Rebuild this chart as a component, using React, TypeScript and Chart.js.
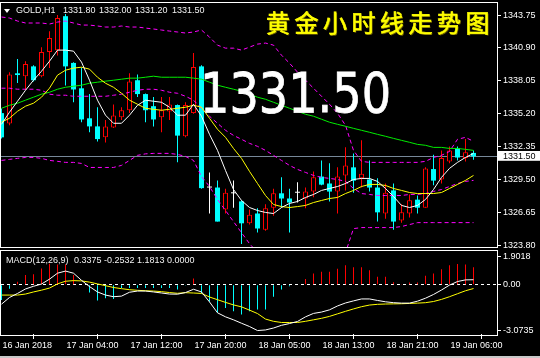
import React, { useEffect, useRef } from "react";
import { Chart, registerables } from "chart.js";

Chart.register(...registerables);

// ---------- data ----------
const barTimes = [
  "16 Jan 19:00", "16 Jan 20:00", "16 Jan 21:00", "16 Jan 22:00", "16 Jan 23:00",
  "17 Jan 01:00", "17 Jan 02:00", "17 Jan 03:00", "17 Jan 04:00", "17 Jan 05:00",
  "17 Jan 06:00", "17 Jan 07:00", "17 Jan 08:00", "17 Jan 09:00", "17 Jan 10:00",
  "17 Jan 11:00", "17 Jan 12:00", "17 Jan 13:00", "17 Jan 14:00", "17 Jan 15:00",
  "17 Jan 16:00", "17 Jan 17:00", "17 Jan 18:00", "17 Jan 19:00", "17 Jan 20:00",
  "17 Jan 21:00", "17 Jan 22:00", "17 Jan 23:00", "18 Jan 01:00", "18 Jan 02:00",
  "18 Jan 03:00", "18 Jan 04:00", "18 Jan 05:00", "18 Jan 06:00", "18 Jan 07:00",
  "18 Jan 08:00", "18 Jan 09:00", "18 Jan 10:00", "18 Jan 11:00", "18 Jan 12:00",
  "18 Jan 13:00", "18 Jan 14:00", "18 Jan 15:00", "18 Jan 16:00", "18 Jan 17:00",
  "18 Jan 18:00", "18 Jan 19:00", "18 Jan 20:00", "18 Jan 21:00", "18 Jan 22:00",
  "18 Jan 23:00", "19 Jan 01:00", "19 Jan 02:00", "19 Jan 03:00", "19 Jan 04:00",
  "19 Jan 05:00", "19 Jan 06:00", "19 Jan 07:00", "19 Jan 08:00", "19 Jan 09:00",
];

const openPrices = [
  1335.25, 1334.35, 1338.70, 1338.45, 1339.30, 1338.45, 1340.55, 1340.70, 1343.65, 1339.60,
  1337.40, 1334.80, 1334.10, 1333.15, 1334.00, 1334.90, 1335.50, 1338.10, 1336.90, 1335.85,
  1334.90, 1335.40, 1335.95, 1333.25, 1335.25, 1339.30, 1328.80, 1328.80, 1326.90, 1328.30,
  1327.60, 1325.70, 1326.55, 1325.15, 1327.05, 1328.30, 1327.85, 1328.35, 1327.85, 1328.45,
  1329.75, 1329.15, 1328.45, 1329.85, 1330.55, 1329.60, 1329.50, 1328.80, 1326.55, 1328.55,
  1325.95, 1326.55, 1327.75, 1327.05, 1330.40, 1329.50, 1331.05, 1332.20, 1331.35, 1331.80,
];
const highPrices = [
  1335.65, 1338.80, 1339.95, 1339.75, 1339.40, 1340.95, 1342.35, 1343.75, 1343.85, 1339.65,
  1339.20, 1336.90, 1335.75, 1334.65, 1336.00, 1335.75, 1338.70, 1338.60, 1336.95, 1336.65,
  1336.65, 1336.65, 1336.00, 1336.20, 1340.45, 1339.40, 1330.10, 1329.40, 1328.70, 1329.40,
  1327.70, 1326.90, 1327.00, 1327.35, 1328.70, 1329.70, 1328.70, 1329.25, 1328.80, 1330.20,
  1331.15, 1330.90, 1330.55, 1332.30, 1331.75, 1332.90, 1331.15, 1329.60, 1329.15, 1329.15,
  1327.35, 1328.20, 1328.10, 1330.55, 1331.65, 1332.00, 1332.35, 1332.35, 1333.00, 1332.00,
];
const lowPrices = [
  1333.05, 1334.20, 1337.85, 1337.25, 1338.00, 1338.35, 1339.15, 1340.25, 1337.65, 1336.20,
  1334.45, 1333.60, 1332.80, 1332.70, 1333.95, 1334.65, 1335.25, 1336.65, 1334.45, 1334.10,
  1333.60, 1334.65, 1331.00, 1333.15, 1335.20, 1328.70, 1326.55, 1325.85, 1326.55, 1327.05,
  1323.90, 1325.60, 1324.90, 1325.05, 1326.35, 1327.05, 1324.90, 1327.50, 1327.00, 1327.95,
  1329.00, 1327.60, 1326.55, 1328.55, 1328.35, 1328.80, 1328.45, 1325.85, 1326.10, 1325.15,
  1325.75, 1326.20, 1326.55, 1327.05, 1329.00, 1329.15, 1330.90, 1331.15, 1331.05, 1331.20,
];
const closePrices = [
  1333.15, 1338.60, 1338.55, 1339.50, 1338.10, 1340.55, 1341.75, 1343.50, 1339.30, 1337.30,
  1334.70, 1334.10, 1333.00, 1334.10, 1335.05, 1335.50, 1338.00, 1336.90, 1335.50, 1334.70,
  1335.50, 1336.00, 1333.30, 1335.95, 1339.25, 1328.75, 1328.80, 1325.85, 1328.35, 1328.30,
  1325.70, 1326.45, 1325.25, 1327.00, 1328.30, 1327.85, 1327.50, 1328.35, 1328.45, 1329.70,
  1329.05, 1328.45, 1329.75, 1330.70, 1329.40, 1330.00, 1328.80, 1326.65, 1328.35, 1325.85,
  1326.65, 1327.70, 1327.05, 1330.45, 1329.40, 1331.35, 1332.00, 1331.40, 1331.85, 1331.50,
];

const maFast = [
  1334.28, 1335.33, 1336.28, 1337.23, 1338.10, 1338.88, 1339.75, 1340.71, 1340.71, 1340.62,
  1339.67, 1338.10, 1336.37, 1335.07, 1334.37, 1334.37, 1335.07, 1335.93, 1336.37, 1336.28,
  1336.19, 1335.76, 1335.07, 1335.07, 1336.02, 1334.98, 1333.41, 1332.02, 1330.28, 1328.63,
  1327.68, 1327.07, 1326.81, 1326.64, 1326.55, 1327.07, 1327.42, 1327.59, 1327.94, 1328.20,
  1328.55, 1328.72, 1328.89, 1329.15, 1329.50, 1329.59, 1329.59, 1329.33, 1328.72, 1328.02,
  1327.25, 1327.07, 1327.25, 1327.77, 1328.63, 1329.68, 1330.46, 1330.98, 1331.41, 1331.76,
];
const maMid = [
  1334.46, 1334.81, 1335.41, 1335.85, 1336.11, 1336.63, 1337.41, 1338.54, 1338.97, 1339.15,
  1339.23, 1339.06, 1338.36, 1337.84, 1337.49, 1336.97, 1336.37, 1336.02, 1335.67, 1335.58,
  1335.50, 1335.58, 1335.67, 1335.76, 1335.93, 1335.76, 1334.80, 1333.85, 1333.15, 1332.19,
  1331.33, 1330.20, 1329.15, 1328.11, 1327.33, 1327.15, 1327.07, 1327.15, 1327.25, 1327.50,
  1327.68, 1327.85, 1327.94, 1328.28, 1328.55, 1328.89, 1329.07, 1329.07, 1328.98, 1328.72,
  1328.55, 1328.37, 1328.28, 1328.28, 1328.28, 1328.37, 1328.72, 1329.07, 1329.42, 1329.85,
];
const maSlow = [
  1335.67, 1335.93, 1336.11, 1336.37, 1336.63, 1336.89, 1337.06, 1337.32, 1337.49, 1337.58,
  1337.67, 1337.84, 1337.93, 1338.02, 1338.10, 1338.19, 1338.28, 1338.28, 1338.36, 1338.45,
  1338.36, 1338.36, 1338.36, 1338.36, 1338.28, 1338.19, 1337.93, 1337.67, 1337.49, 1337.32,
  1337.15, 1336.89, 1336.63, 1336.45, 1336.19, 1335.93, 1335.67, 1335.41, 1335.15, 1334.98,
  1334.72, 1334.46, 1334.28, 1334.11, 1333.93, 1333.76, 1333.59, 1333.41, 1333.24, 1333.06,
  1332.89, 1332.72, 1332.54, 1332.46, 1332.28, 1332.28, 1332.19, 1332.19, 1332.11, 1332.02,
];
const bandUpper = [
  1343.58, 1343.49, 1343.23, 1343.06, 1343.06, 1343.06, 1342.97, 1343.14, 1343.23, 1343.06,
  1342.88, 1342.88, 1342.80, 1342.71, 1342.71, 1342.80, 1342.71, 1342.71, 1342.62, 1342.54,
  1342.45, 1342.36, 1342.28, 1342.19, 1342.28, 1342.45, 1341.84, 1341.14, 1340.88, 1340.88,
  1340.71, 1340.97, 1341.23, 1341.32, 1341.14, 1340.27, 1339.58, 1338.80, 1338.10, 1337.41,
  1336.71, 1336.02, 1335.24, 1334.19, 1332.02, 1331.07, 1330.98, 1330.98, 1330.98, 1330.98,
  1330.98, 1330.98, 1330.98, 1331.07, 1331.41, 1331.59, 1331.93, 1332.98, 1333.15, 1332.80,
];
const bandMiddle = [
  1337.41, 1337.41, 1337.32, 1337.32, 1337.32, 1337.23, 1336.89, 1336.80, 1336.80, 1336.71,
  1336.71, 1336.71, 1336.71, 1336.71, 1336.80, 1336.89, 1337.06, 1337.23, 1337.32, 1337.32,
  1337.23, 1337.06, 1336.97, 1336.71, 1336.37, 1335.67, 1334.98, 1334.37, 1333.76, 1333.32,
  1332.98, 1332.63, 1332.37, 1332.02, 1331.59, 1331.15, 1330.72, 1330.37, 1330.11, 1329.85,
  1329.68, 1329.59, 1329.50, 1329.33, 1328.72, 1328.28, 1328.20, 1328.11, 1328.11, 1328.11,
  1328.11, 1328.20, 1328.20, 1328.28, 1328.46, 1328.63, 1328.89, 1329.15, 1329.33, 1329.42,
];
const bandLower = [
  1331.15, 1331.24, 1331.33, 1331.41, 1331.41, 1331.33, 1331.15, 1331.07, 1330.98, 1330.98,
  1330.89, 1330.54, 1330.54, 1330.54, 1330.54, 1330.72, 1331.15, 1331.59, 1331.72, 1331.76,
  1331.76, 1331.76, 1331.67, 1331.50, 1331.15, 1329.76, 1328.89, 1327.77, 1326.81, 1325.85,
  1324.89, 1323.94, 1323.16, 1322.64, 1322.29, 1322.03, 1321.77, 1321.60, 1321.60, 1321.77,
  1322.03, 1322.29, 1322.46, 1323.16, 1325.24, 1325.33, 1325.33, 1325.33, 1325.33, 1325.33,
  1325.42, 1325.59, 1325.76, 1325.76, 1325.76, 1325.76, 1325.76, 1325.76, 1325.76, 1325.76,
];

const macdMain = [
  -1.30, -0.85, -0.58, -0.28, -0.10, 0.05, 0.38, 0.78, 0.92, 0.78,
  0.30, -0.12, -0.48, -0.69, -0.80, -0.76, -0.50, -0.42, -0.42, -0.48,
  -0.55, -0.62, -0.63, -0.52, -0.30, -0.48, -1.15, -1.88, -2.15, -2.35,
  -2.58, -2.80, -3.07, -3.03, -2.90, -2.72, -2.60, -2.46, -2.15, -1.92,
  -1.83, -1.68, -1.42, -1.22, -1.08, -0.95, -0.95, -1.05, -1.14, -1.20,
  -1.23, -1.23, -1.10, -0.90, -0.65, -0.35, -0.02, 0.22, 0.33, 0.34,
];
const macdSignal = [
  -0.69, -0.69, -0.69, -0.62, -0.48, -0.36, -0.22, 0.06, 0.24, 0.28,
  0.26, 0.18, 0.06, -0.06, -0.18, -0.26, -0.33, -0.37, -0.40, -0.42,
  -0.46, -0.52, -0.57, -0.53, -0.55, -0.58, -0.82, -1.00, -1.18, -1.35,
  -1.48, -1.70, -1.93, -2.30, -2.45, -2.53, -2.53, -2.53, -2.45, -2.35,
  -2.25, -2.12, -1.95, -1.78, -1.62, -1.47, -1.36, -1.31, -1.29, -1.28,
  -1.27, -1.25, -1.23, -1.20, -1.12, -0.98, -0.80, -0.60, -0.40, -0.25,
];
const macdHist = [
  -1.02, -0.26, 0.21, 0.65, 0.71, 1.10, 1.42, 1.36, 1.36, 0.65,
  0, -0.52, -1.06, -0.91, -0.95, -0.22, -0.22, -0.22, -0.22, -0.22,
  -0.22, -0.22, -0.32, -0.04, 0.43, -0.58, -1.12, -1.88, -1.55, -1.77,
  -1.99, -1.77, -1.66, -1.66, -0.80, -0.32, -0.09, 0, 0.39, 0.75,
  0.88, 0.88, 1.07, 1.31, 1.18, 1.18, 0.97, 0.54, 0.54, 0.17,
  0.05, 0.15, 0.15, 0.60, 0.75, 1.04, 1.31, 1.40, 1.36, 1.18,
];

const priceTicks = [1323.80, 1326.65, 1329.50, 1331.50, 1332.35, 1335.20, 1338.05, 1340.90, 1343.75];
const bidPrice = 1331.50;
const macdTicks = [-3.0735, 0, 1.9018];
const timeTickBars = [0, 8, 16, 24, 32, 40, 48, 56];
const timeTickLabels = [
  "16 Jan 2018", "17 Jan 04:00", "17 Jan 12:00", "17 Jan 20:00",
  "18 Jan 05:00", "18 Jan 13:00", "18 Jan 21:00", "19 Jan 06:00",
];
const symbolTitle = "GOLD,H1";
const macdTitle = "MACD(12,26,9)";
const macdLegendValues = ["0.3375", "-0.2532", "1.1813", "0.0000"];
const chartCaption = "黄金小时线走势图";

// ---------- style ----------
const BULL = "#ff0000";
const BEAR = "#00ffff";
const DOJI = "#ffffff";
const FONT = "'Liberation Sans', Arial, sans-serif";
const X_MIN = -0.0625;
const X_MAX = 61.9375;

const xy = (arr: number[]) => arr.map((v, i) => ({ x: i, y: v }));

const lineDs = (label: string, values: number[], color: string, order: number, dash: number[] = []) => ({
  type: "line",
  label,
  data: xy(values),
  borderColor: color,
  borderWidth: 1,
  borderDash: dash,
  pointRadius: 0,
  tension: 0,
  fill: false,
  order,
});

export default function App() {
  const mainRef = useRef<HTMLCanvasElement>(null);
  const macdRef = useRef<HTMLCanvasElement>(null);

  useEffect(() => {
    document.body.style.margin = "0";
    document.body.style.background = "#000";
    Chart.defaults.font.family = FONT;
    Chart.defaults.font.size = 9;

    const kinds = closePrices.map((c, i) => (c > openPrices[i] ? 1 : c < openPrices[i] ? -1 : 0));
    const candleColor = kinds.map((k) => (k > 0 ? BULL : k < 0 ? BEAR : DOJI));

    const main = new Chart(mainRef.current as HTMLCanvasElement, {
      type: "bar",
      data: {
        labels: barTimes,
        datasets: [
          lineDs("MA fast", maFast, "#ffffff", 1),
          lineDs("MA mid", maMid, "#ffff00", 2),
          lineDs("MA slow", maSlow, "#00ee00", 3),
          lineDs("BB upper", bandUpper, "#ff00ff", 4, [4, 3]),
          lineDs("BB middle", bandMiddle, "#ff00ff", 4, [4, 3]),
          lineDs("BB lower", bandLower, "#ff00ff", 4, [4, 3]),
          {
            type: "bar",
            label: "bodies",
            data: openPrices.map((o, i) => ({ x: i, y: [o, closePrices[i]] })),
            backgroundColor: kinds.map((k) => (k > 0 ? "#000000" : k < 0 ? BEAR : DOJI)),
            borderColor: kinds.map((k) => (k > 0 ? BULL : "rgba(0,0,0,0)")),
            borderWidth: kinds.map((k) => (k > 0 ? 1 : 0)),
            borderSkipped: false,
            barThickness: 5,
            maxBarThickness: 5,
            grouped: false,
            minBarLength: 1,
            inflateAmount: 0,
            order: 8,
          },
          {
            type: "bar",
            label: "wicks",
            data: lowPrices.map((l, i) => ({ x: i, y: [l, highPrices[i]] })),
            backgroundColor: candleColor,
            borderWidth: 0,
            barThickness: 1,
            maxBarThickness: 1,
            grouped: false,
            inflateAmount: 0,
            order: 9,
          },
        ] as any,
      },
      options: {
        animation: false,
        responsive: false,
        devicePixelRatio: 1,
        events: [],
        layout: { padding: { left: 1, top: 2, right: 0, bottom: 2 }, autoPadding: false },
        plugins: { legend: { display: false }, tooltip: { enabled: false } },
        scales: {
          x: { type: "linear", min: X_MIN, max: X_MAX, offset: false, display: false },
          y: {
            type: "linear",
            position: "right",
            min: 1323.56,
            max: 1344.88,
            beginAtZero: false,
            afterFit: (s: any) => {
              s.width = 43;
              s.paddingTop = 0;
              s.paddingBottom = 0;
            },
            afterBuildTicks: (s: any) => {
              s.ticks = priceTicks.map((v) => ({ value: v }));
            },
            grid: {
              drawOnChartArea: true,
              color: (c: any) => (c.tick && c.tick.value === bidPrice ? "#778899" : "rgba(0,0,0,0)"),
              lineWidth: 1,
              drawTicks: true,
              tickLength: 4,
              tickColor: "#ffffff",
              tickWidth: 1,
            },
            border: { display: false },
            ticks: {
              autoSkip: false,
              padding: 2,
              font: { family: FONT, size: 9 },
              color: (c: any) => (c.tick && c.tick.value === bidPrice ? "#000000" : "#ffffff"),
              callback: (v: any) => Number(v).toFixed(2),
              showLabelBackdrop: (c: any) => !!(c.tick && c.tick.value === bidPrice),
              backdropColor: "#ffffff",
              backdropPadding: { top: 0, bottom: -1, left: 5, right: 8 },
            },
          },
        },
      } as any,
    });

    const macd = new Chart(macdRef.current as HTMLCanvasElement, {
      type: "bar",
      data: {
        datasets: [
          lineDs("MACD", macdMain, "#ffffff", 1),
          lineDs("Signal", macdSignal, "#ffff00", 2),
          {
            type: "bar",
            label: "Histogram",
            data: xy(macdHist),
            backgroundColor: macdHist.map((h) => (h >= 0 ? BULL : BEAR)),
            borderWidth: 0,
            barThickness: 1,
            maxBarThickness: 1,
            grouped: false,
            inflateAmount: 0,
            order: 3,
          },
        ] as any,
      },
      options: {
        animation: false,
        responsive: false,
        devicePixelRatio: 1,
        events: [],
        layout: { padding: { left: 1, top: 1, right: 0, bottom: 0 }, autoPadding: false },
        plugins: { legend: { display: false }, tooltip: { enabled: false } },
        scales: {
          x: {
            type: "linear",
            min: X_MIN,
            max: X_MAX,
            offset: false,
            position: "bottom",
            afterFit: (s: any) => {
              s.height = 24;
              s.paddingLeft = 0;
              s.paddingRight = 0;
            },
            afterBuildTicks: (s: any) => {
              s.ticks = timeTickBars.map((v) => ({ value: v }));
            },
            grid: {
              drawOnChartArea: false,
              drawTicks: true,
              tickLength: 5,
              tickColor: "#ffffff",
              color: "#ffffff",
            },
            border: { display: false },
            ticks: {
              autoSkip: false,
              maxRotation: 0,
              minRotation: 0,
              align: "start",
              padding: 1,
              labelOffset: 1,
              color: "#ffffff",
              font: { family: FONT, size: 9 },
              callback: (_v: any, i: number) => timeTickLabels[i] ?? "",
            },
          },
          y: {
            type: "linear",
            position: "right",
            min: -3.302,
            max: 2.268,
            beginAtZero: false,
            afterFit: (s: any) => {
              s.width = 43;
              s.paddingTop = 0;
              s.paddingBottom = 0;
            },
            afterBuildTicks: (s: any) => {
              s.ticks = macdTicks.map((v) => ({ value: v }));
            },
            grid: {
              drawOnChartArea: true,
              color: (c: any) => (c.tick && c.tick.value === 0 ? "#ffffff" : "rgba(0,0,0,0)"),
              drawTicks: true,
              tickLength: 4,
              tickColor: "#ffffff",
            },
            border: { display: false, dash: [3, 3] },
            ticks: {
              autoSkip: false,
              padding: 2,
              color: "#ffffff",
              font: { family: FONT, size: 9 },
              callback: (v: any) => (Number(v) === 0 ? "0.00" : Number(v).toFixed(4)),
            },
          },
        },
      } as any,
    });

    return () => {
      main.destroy();
      macd.destroy();
    };
  }, []);

  const last = closePrices.length - 1;
  const ohlc = [openPrices[last], highPrices[last], lowPrices[last], closePrices[last]].map((v) => v.toFixed(2));
  const ohlcLeft = [63, 99, 135, 172];

  const small: React.CSSProperties = {
    position: "absolute",
    fontFamily: FONT,
    fontSize: 9,
    lineHeight: "9px",
    color: "#f2f2f2",
    whiteSpace: "pre",
  };

  return (
    <div
      style={{
        position: "fixed",
        left: 0,
        top: 0,
        width: 540,
        height: 358,
        background: "#000",
        overflow: "hidden",
      }}
    >
      <canvas ref={mainRef} width={540} height={250} style={{ position: "absolute", left: 0, top: 0, width: 540, height: 250 }} />
      <canvas ref={macdRef} width={540} height={108} style={{ position: "absolute", left: 0, top: 250, width: 540, height: 108 }} />

      {/* panel frames */}
      <div style={{ position: "absolute", left: 0, top: 2, width: 498, height: 246, border: "1px solid #fff", boxSizing: "border-box" }} />
      <div style={{ position: "absolute", left: 0, top: 250, width: 498, height: 86, border: "1px solid #fff", boxSizing: "border-box" }} />
      <div style={{ position: "absolute", left: 0, top: 356, width: 540, height: 2, background: "#c8c8c8" }} />

      {/* title */}
      <div
        style={{
          position: "absolute",
          left: 4,
          top: 9,
          width: 0,
          height: 0,
          borderLeft: "3.5px solid transparent",
          borderRight: "3.5px solid transparent",
          borderTop: "4px solid #fff",
        }}
      />
      <div style={{ ...small, left: 16, top: 6 }}>{symbolTitle}</div>
      {ohlc.map((t, i) => (
        <div key={"o" + i} style={{ ...small, left: ohlcLeft[i], top: 6 }}>{t}</div>
      ))}

      {/* MACD legend */}
      <div style={{ ...small, left: 6, top: 255.5 }}>{macdTitle}</div>
      <div style={{ ...small, left: 74, top: 255.5 }}>{macdLegendValues.join(" ")}</div>

      {/* caption */}
      <div
        style={{
          position: "absolute",
          left: 266,
          top: 10,
          fontFamily: "'Noto Sans CJK SC', sans-serif",
          fontSize: 24,
          lineHeight: "24px",
          fontWeight: 400,
          letterSpacing: 4.5,
          color: "#ffff00",
          WebkitTextStroke: "0.6px #ffff00",
          textShadow: "1px 1px 0 #6e5f00",
          whiteSpace: "nowrap",
        }}
      >
        {chartCaption}
      </div>

      {/* big price */}
      <div
        style={{
          position: "absolute",
          left: 200,
          top: 65.5,
          fontFamily: "'DejaVu Sans', sans-serif",
          fontSize: 55,
          lineHeight: "55px",
          color: "#ffffff",
          WebkitTextStroke: "0.8px #ffffff",
          transform: "scaleX(0.84)",
          transformOrigin: "left top",
          whiteSpace: "nowrap",
        }}
      >
        {closePrices[last].toFixed(2)}
      </div>
    </div>
  );
}
